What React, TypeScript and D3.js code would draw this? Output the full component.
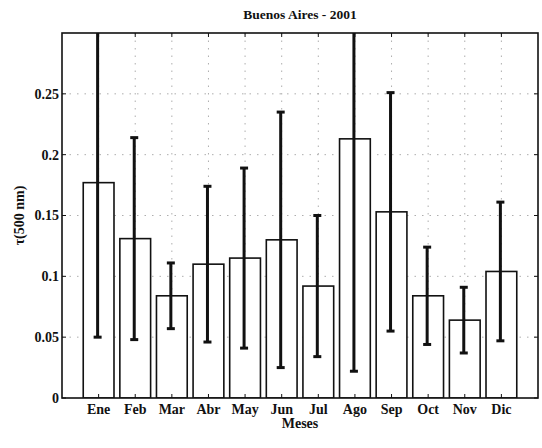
import React from "react";
import * as d3 from "d3";

const months = ["Ene", "Feb", "Mar", "Abr", "May", "Jun", "Jul", "Ago", "Sep", "Oct", "Nov", "Dic"];
const meanTau = [0.177, 0.131, 0.084, 0.110, 0.115, 0.130, 0.092, 0.213, 0.153, 0.084, 0.064, 0.104];
const sdTau = [0.127, 0.083, 0.027, 0.064, 0.074, 0.105, 0.058, 0.191, 0.098, 0.040, 0.027, 0.057];
const yTicks = [0, 0.05, 0.1, 0.15, 0.2, 0.25];
const yTickLabels = ["0", "0.05", "0.1", "0.15", "0.2", "0.25"];

const W = 542;
const H = 448;
const M = { left: 62, right: 4, top: 33, bottom: 50 };
const FONT = "'Liberation Serif', 'DejaVu Serif', 'Times New Roman', serif";

export default function App() {
  const x = d3.scaleLinear().domain([0, months.length + 1]).range([M.left, W - M.right]);
  const y = d3.scaleLinear().domain([0, 0.3]).range([H - M.bottom, M.top]);
  const step = x(1) - x(0);
  const barW = step * 0.84;
  const capW = 8;
  const x0 = M.left, x1 = W - M.right, y0 = H - M.bottom, y1 = M.top;

  return (
    <svg width={W} height={H} style={{ position: "absolute", left: 0, top: 0, background: "#fff", fontFamily: FONT }}>
      <defs>
        <clipPath id="plot">
          <rect x={x0} y={y1} width={x1 - x0} height={y0 - y1} />
        </clipPath>
      </defs>
      {/* dotted grid */}
      <g stroke="#999" strokeWidth={0.8} strokeDasharray="1.5,6">
        {yTicks.slice(1).map((t) => (
          <line key={"gy" + t} x1={x0} x2={x1} y1={y(t)} y2={y(t)} />
        ))}
        {months.map((m, i) => (
          <line key={"gx" + m} x1={x(i + 1)} x2={x(i + 1)} y1={y1} y2={y0} />
        ))}
      </g>
      {/* bars with error bars */}
      <g clipPath="url(#plot)">
        {meanTau.map((v, i) => (
          <rect key={"b" + i} x={x(i + 1) - barW / 2} y={y(v)} width={barW} height={y(0) - y(v)}
            fill="#fff" stroke="#111" strokeWidth={1.6} />
        ))}
        {meanTau.map((v, i) => {
          const cx = x(i + 1) - 1;
          const lo = v - sdTau[i];
          const hi = v + sdTau[i];
          return (
            <g key={"e" + i} stroke="#111" strokeWidth={3}>
              <line x1={cx} x2={cx} y1={y(lo)} y2={y(hi)} />
              <line x1={cx - capW / 2} x2={cx + capW / 2} y1={y(lo)} y2={y(lo)} />
              <line x1={cx - capW / 2} x2={cx + capW / 2} y1={y(hi)} y2={y(hi)} />
            </g>
          );
        })}
      </g>
      {/* axes frame and ticks */}
      <rect x={x0} y={y1} width={x1 - x0} height={y0 - y1} fill="none" stroke="#111" strokeWidth={1.6} />
      <g stroke="#111" strokeWidth={1}>
        {yTicks.map((t) => (
          <g key={"ty" + t}>
            <line x1={x0} x2={x0 + 4} y1={y(t)} y2={y(t)} />
            <line x1={x1} x2={x1 - 4} y1={y(t)} y2={y(t)} />
          </g>
        ))}
        {months.map((m, i) => (
          <g key={"tx" + m}>
            <line x1={x(i + 1)} x2={x(i + 1)} y1={y0} y2={y0 - 4} />
            <line x1={x(i + 1)} x2={x(i + 1)} y1={y1} y2={y1 + 4} />
          </g>
        ))}
      </g>
      <g fontSize={14} fontWeight="bold" fill="#111">
        {yTicks.map((t, i) => (
          <text key={"ly" + t} x={x0 - 3} y={y(t)} dy="0.35em" textAnchor="end">{yTickLabels[i]}</text>
        ))}
      </g>
      <g fontSize={14} fontWeight="600" fill="#111">
        {months.map((m, i) => (
          <text key={"lx" + m} x={x(i + 1)} y={y0 + 16} textAnchor="middle">{m}</text>
        ))}
      </g>
      <text x={(x0 + x1) / 2} y={19} textAnchor="middle" fontSize={13.5} fontWeight="bold" fill="#111">
        Buenos Aires - 2001
      </text>
      <text x={(x0 + x1) / 2} y={y0 + 30} textAnchor="middle" fontSize={14} fontWeight="600" fill="#111">
        Meses
      </text>
      <text transform={`translate(24,${(y0 + y1) / 2}) rotate(-90)`} textAnchor="middle" fontSize={14}
        fontWeight="bold" fill="#111">
        τ(500 nm)
      </text>
    </svg>
  );
}
